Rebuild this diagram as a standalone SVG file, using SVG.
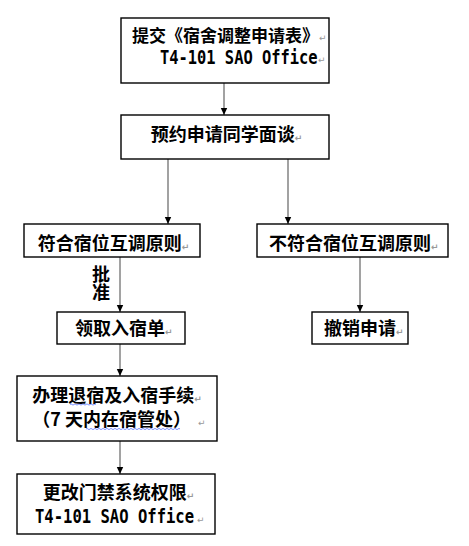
<svg xmlns="http://www.w3.org/2000/svg" width="469" height="546" viewBox="0 0 469 546">
<defs>
<style>
.box{fill:#fff;stroke:#000;stroke-width:1.4}
.cn{font-family:"Noto Sans CJK SC","Noto Sans",sans-serif;font-weight:bold;font-size:18px;fill:#000}
.mono{font-family:"DejaVu Sans Mono","Liberation Mono",monospace;font-weight:bold;font-size:15.4px;fill:#000}
.pm{font-family:"DejaVu Sans",sans-serif;font-size:9px;fill:#999}
.edge{stroke:#707070;stroke-width:1.3;fill:none;marker-end:url(#ah)}
.wavy{stroke:#4060ff;stroke-width:0.7;fill:none}
</style>
<marker id="ah" markerUnits="userSpaceOnUse" markerWidth="8" markerHeight="8" refX="7" refY="4" orient="auto">
<path d="M0,0.8 L7,4 L0,7.2 z" fill="#000"/>
</marker>
</defs>
<rect width="469" height="546" fill="#fff"/>
<g id="connectors">
<line class="edge" x1="224" y1="83" x2="224" y2="115"/>
<line class="edge" x1="168" y1="159" x2="168" y2="224"/>
<line class="edge" x1="288" y1="159" x2="288" y2="224"/>
<line class="edge" x1="120" y1="257" x2="120" y2="312"/>
<line class="edge" x1="360" y1="257" x2="360" y2="312"/>
<line class="edge" x1="120" y1="344" x2="120" y2="376"/>
<line class="edge" x1="120" y1="441" x2="120" y2="474"/>
<text class="cn" x="101" y="265" style="writing-mode:vertical-rl">批准</text>
</g>
<g id="n1">
<rect class="box" x="121" y="18" width="208" height="65"/>
<text class="cn" x="132" y="41.5" style="font-size:17px">提交《宿舍调整申请表》</text>
<text class="pm" x="319" y="41">↵</text>
<text class="mono" transform="translate(160,63.5) scale(1,1.25)" x="0" y="0">T4-101 SAO Office</text>
<text class="pm" x="318" y="63">↵</text>
</g>
<g id="n2">
<rect class="box" x="121" y="115" width="208" height="44"/>
<text class="cn" x="150.7" y="141">预约申请同学面谈<tspan class="pm">↵</tspan></text>
</g>
<g id="n3">
<rect class="box" x="24" y="224" width="176" height="33"/>
<text class="cn" x="37.7" y="250">符合宿位互调原则<tspan class="pm">↵</tspan></text>
</g>
<g id="n4">
<rect class="box" x="257" y="224" width="191" height="33"/>
<text class="cn" x="269" y="250">不符合宿位互调原则<tspan class="pm">↵</tspan></text>
</g>
<g id="n5">
<rect class="box" x="57" y="312" width="128" height="32"/>
<text class="cn" x="75" y="335">领取入宿单<tspan class="pm">↵</tspan></text>
</g>
<g id="n6">
<rect class="box" x="312" y="312" width="96" height="32"/>
<text class="cn" x="324" y="335">撤销申请<tspan class="pm">↵</tspan></text>
</g>
<g id="n7">
<rect class="box" x="17" y="376" width="200" height="65"/>
<text class="cn" x="32.3" y="401.5">办理退宿及入宿手续<tspan class="pm">↵</tspan></text>
<text class="cn" x="32.3" y="426">（7 天内在宿管处）</text>
<text class="pm" x="198" y="426">↵</text>
<path class="wavy" d="M70,404.5 q1,-1.2 2,0 t2,0 t2,0 t2,0 t2,0 t2,0 t2,0 t2,0 t2,0 t2,0 t2,0 t2,0 t2,0"/>
<path class="wavy" d="M86,429 q1,-1.2 2,0 t2,0 t2,0 t2,0 t2,0 t2,0 t2,0 t2,0 t2,0 t2,0 t2,0 t2,0 t2,0 t2,0 t2,0 t2,0 t2,0 t2,0 t2,0 t2,0 t2,0 t2,0 t2,0 t2,0 t2,0 t2,0 t2,0 t2,0 t2,0 t2,0 t2,0 t2,0 t2,0 t2,0 t2,0 t2,0 t2,0 t2,0 t2,0 t2,0 t2,0 t2,0 t2,0 t2,0 t2,0 t2,0 t2,0"/>
</g>
<g id="n8">
<rect class="box" x="17" y="474" width="198" height="60"/>
<text class="cn" x="42.7" y="499">更改门禁系统权限<tspan class="pm">↵</tspan></text>
<text class="mono" transform="translate(35,523) scale(1.01,1.25)" x="0" y="0">T4-101 SAO Office</text>
<text class="pm" x="197" y="523">↵</text>
</g>
</svg>
